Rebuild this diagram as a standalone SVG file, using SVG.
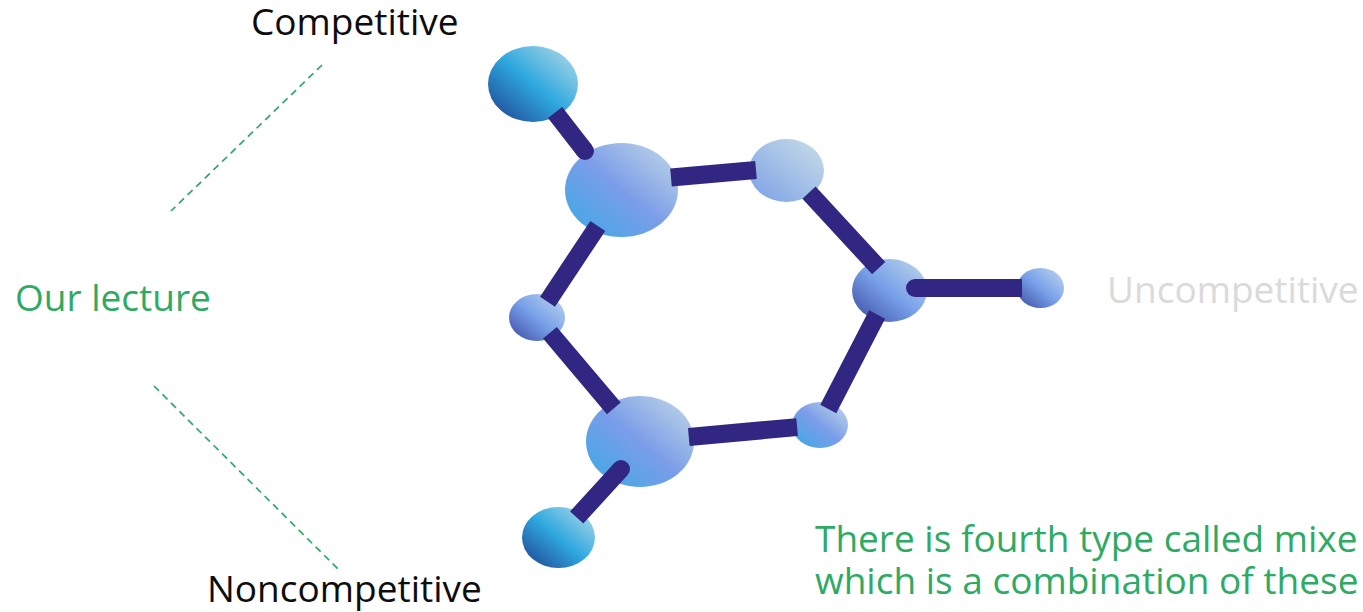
<svg xmlns="http://www.w3.org/2000/svg" width="1363" height="612" viewBox="0 0 1363 612">
  <defs>
    <!-- ball shading: dark at lower-left, light at upper-right -->
    <linearGradient id="gCyan" x1="0" y1="1" x2="1" y2="0">
      <stop offset="0" stop-color="#1f3c8c"/>
      <stop offset="0.5" stop-color="#2ea8df"/>
      <stop offset="1" stop-color="#bcdde8"/>
    </linearGradient>
    <linearGradient id="gSky" x1="0" y1="1" x2="1" y2="0">
      <stop offset="0" stop-color="#38aae6"/>
      <stop offset="0.5" stop-color="#7b9de9"/>
      <stop offset="1" stop-color="#c6dbe6"/>
    </linearGradient>
    <linearGradient id="gPale" x1="0" y1="1" x2="1" y2="0">
      <stop offset="0" stop-color="#7a9fe6"/>
      <stop offset="1" stop-color="#cadfe8"/>
    </linearGradient>
    <linearGradient id="gSlate" x1="0" y1="1" x2="1" y2="0">
      <stop offset="0" stop-color="#3a49a0"/>
      <stop offset="0.5" stop-color="#79a1ea"/>
      <stop offset="1" stop-color="#c2d9e8"/>
    </linearGradient>
    <style>
      .label { font-family: "Open Sans", "Noto Sans", sans-serif; font-size: 37px; }
      .dark { fill: #0d0d0d; }
      .green { fill: #2eaa64; }
      .grey { fill: #dadada; }
      .guide { stroke: #2eaa64; stroke-width: 1.7; stroke-dasharray: 7 5; fill: none; }
      .bond { stroke: #312783; stroke-width: 18; stroke-linecap: butt; fill: none; }
      .cap { fill: #312783; }
    </style>
  </defs>

  <!-- labels -->
  <g id="label-competitive"><text class="label dark" x="251" y="35">Competitive</text></g>
  <g id="label-lecture"><text class="label green" x="15" y="311">Our lecture</text></g>
  <g id="label-noncompetitive"><text class="label dark" x="207" y="602">Noncompetitive</text></g>
  <g id="label-uncompetitive"><text class="label grey" x="1107" y="303">Uncompetitive</text></g>
  <g id="label-mixed">
    <text class="label green" x="815" y="552">There is fourth type called mixe</text>
    <text class="label green" x="815" y="594">which is a combination of these</text>
  </g>

  <!-- dashed guide lines -->
  <g id="guides">
    <line class="guide" x1="322" y1="65" x2="171" y2="211"/>
    <line class="guide" x1="154" y1="386" x2="338" y2="569"/>
  </g>

  <!-- atoms -->
  <g id="atom-a"><ellipse cx="533" cy="84" rx="45" ry="38" fill="url(#gCyan)"/></g>
  <g id="atom-b"><ellipse cx="621.5" cy="190" rx="56.5" ry="47" fill="url(#gSky)"/></g>
  <g id="atom-c"><ellipse cx="786.5" cy="170.5" rx="37.5" ry="31.5" fill="url(#gPale)"/></g>
  <g id="atom-d"><ellipse cx="889.5" cy="290.5" rx="37.5" ry="31.5" fill="url(#gSlate)"/></g>
  <g id="atom-e"><ellipse cx="1040.5" cy="288" rx="23.5" ry="20" fill="url(#gSlate)"/></g>
  <g id="atom-f"><ellipse cx="820" cy="425" rx="28" ry="23" fill="url(#gSky)"/></g>
  <g id="atom-g"><ellipse cx="640" cy="441.5" rx="54" ry="45.5" fill="url(#gSky)"/></g>
  <g id="atom-h"><ellipse cx="537" cy="317.5" rx="28" ry="23.5" fill="url(#gSlate)"/></g>
  <g id="atom-i"><ellipse cx="558.5" cy="537.5" rx="36.5" ry="30.5" fill="url(#gCyan)"/></g>

  <!-- bonds: ends tucked just inside the atoms' rims; rounded tips sit on the atom face -->
  <g id="bonds">
    <line class="bond" x1="555.1" y1="112.4" x2="585" y2="151"/>
    <circle class="cap" cx="585" cy="151" r="9"/>
    <line class="bond" x1="671" y1="177.5" x2="756" y2="170"/>
    <line class="bond" x1="809" y1="192.6" x2="878.7" y2="268.2"/>
    <line class="bond" x1="915" y1="288" x2="1022" y2="288"/>
    <circle class="cap" cx="915" cy="288" r="9"/>
    <line class="bond" x1="877.1" y1="314.5" x2="828.3" y2="409"/>
    <line class="bond" x1="797.1" y1="427.1" x2="688.8" y2="437"/>
    <line class="bond" x1="549.9" y1="332.8" x2="613.8" y2="408.4"/>
    <line class="bond" x1="547.5" y1="301.7" x2="597.8" y2="225.9"/>
    <line class="bond" x1="621" y1="469" x2="576.7" y2="517.5"/>
    <circle class="cap" cx="621" cy="469" r="9"/>
  </g>
</svg>
